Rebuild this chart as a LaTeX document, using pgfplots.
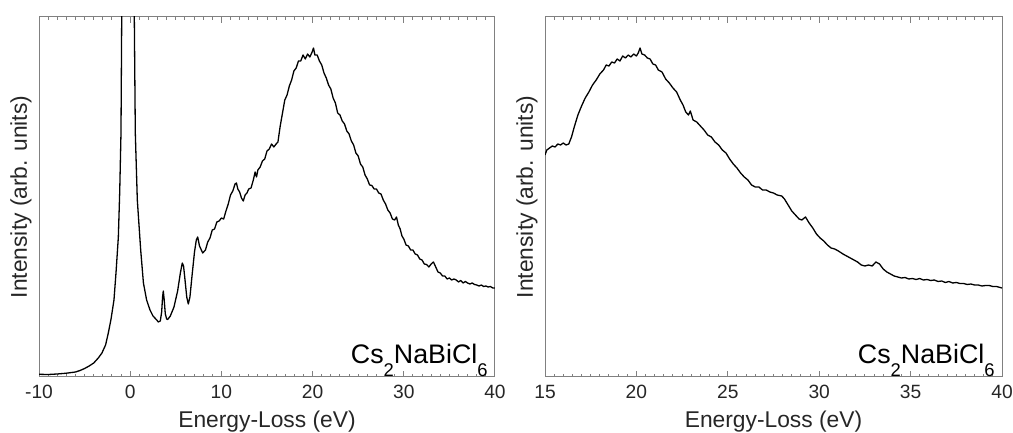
\documentclass[border=0pt]{standalone}
\usepackage{pgfplots}
\pgfplotsset{compat=1.18}
\usepackage{fontspec}
\setmainfont{Liberation Sans}
\pgfplotstableread{
x y
-10.0 2.7
-9.0 2.5
-8.0 3.0
-7.0 3.8
-6.0 5.0
-5.5 6.5
-5.0 8.5
-4.5 11
-4.0 14
-3.5 19
-3.1 24
-2.7 32
-2.4 44
-2.1 58
-1.78 77
-1.55 105
-1.30 140
-1.15 185
-1.01 244
-0.93 360
-0.85 450
-0.2 1500
0.38 450
0.45 360
0.56 244
0.78 177
1.15 127
1.45 94
1.8 77
2.17 67
2.5 61
2.91 57
3.08 55
3.3 56
3.45 65
3.55 80
3.63 86
3.72 78
3.85 63
4.0 58
4.11 57.5
4.4 61
4.8 70
5.2 86
5.5 104
5.71 114
5.85 111
6.0 98
6.2 80
6.37 73
6.55 80
6.8 103
7.05 125
7.25 137
7.40 140
7.6 131
7.95 124
8.25 127
8.5 135
8.75 139
9.0 147
9.25 148
9.5 155
9.75 156
10.0 159
10.25 158
10.5 166
10.75 173
11.0 182
11.25 186
11.5 193
11.65 194
11.8 188
12.0 185
12.2 179
12.4 176
12.6 182
12.8 184
13.0 188
13.25 189
13.5 197
13.7 205
13.85 200
14.0 207
14.25 210
14.5 216
14.75 218
15.0 226
15.25 228
15.5 233
15.75 230
16.0 233
16.2 235
16.45 251
16.7 264
16.95 277
17.2 282
17.45 291
17.7 297
17.95 306
18.2 309
18.45 316
18.7 316
18.95 322
19.2 318
19.45 323
19.7 320
19.95 325
20.1 329
20.25 322
20.5 322
20.75 316
21.0 312
21.25 304
21.5 299
21.75 292
22.0 288
22.25 279
22.5 274
22.75 264
23.0 262
23.25 256
23.5 253
23.75 246
24.0 243
24.25 236
24.5 232
24.75 224
25.0 221
25.25 213
25.5 210
25.75 202
26.0 198
26.25 192
26.5 191.5
26.75 188
27.0 188
27.25 184
27.5 183
27.75 177
28.0 173
28.25 167
28.5 164
28.75 158
29.0 157
29.2 160
29.4 152
29.6 148
29.8 141
30.0 138
30.25 132
30.5 131
30.75 127
31.0 127
31.25 123
31.5 122
31.75 118
32.0 117
32.25 113
32.5 112.5
32.75 110
33.0 113
33.25 115
33.5 110
33.75 105
34.0 104
34.25 101
34.5 101
34.75 98
35.0 99
35.25 97
35.5 98
35.75 97
36.0 95
36.25 96.5
36.5 94
36.75 95.5
37.0 94
37.25 93
37.5 94
37.75 92.5
38.0 92
38.25 91
38.5 92
38.75 90.5
39.0 91
39.25 90
39.5 90.5
39.75 89
40.0 89
}\leftdata
\pgfplotstableread{
x y
15.0 222
15.1 227
15.25 229
15.4 231
15.55 230
15.7 233
15.85 232
16.0 234
16.15 232
16.3 233
16.45 240
16.6 250
16.8 262
17.0 271
17.2 279
17.4 285
17.6 292
17.8 297
18.0 303
18.2 307
18.35 312
18.5 311
18.65 315
18.8 314
18.95 318
19.1 316
19.25 321
19.4 319
19.55 322
19.7 320
19.85 323
20.0 321
20.1 324
20.2 329
20.3 323
20.45 322
20.6 319
20.75 318
20.9 313
21.05 312
21.2 307
21.4 305
21.6 298
21.8 294
22.0 289
22.2 285
22.4 277
22.55 272
22.7 265
22.85 262
22.95 266
23.1 257
23.3 255
23.5 251
23.7 247
23.9 242
24.1 240
24.3 235
24.5 232
24.7 227
24.9 224
25.1 218
25.3 213
25.5 209
25.7 204
25.9 200
26.1 197
26.3 192
26.5 190
26.7 190
26.9 187
27.1 187
27.3 185
27.5 184
27.7 182
27.95 181
28.1 178
28.3 172
28.5 166
28.7 162
28.9 158
29.05 157
29.25 160
29.45 154
29.65 149
29.85 143
30.05 139
30.25 136
30.45 132
30.65 129
30.85 128
31.05 126
31.3 123
31.5 121
31.7 119
31.9 117
32.1 115
32.3 112
32.5 111
32.7 112
32.9 111
33.1 115
33.3 113
33.5 108
33.7 105
33.9 103
34.1 101
34.3 100
34.5 99
34.7 99.5
34.9 98
35.1 98.5
35.3 97.5
35.5 98.5
35.7 97
35.9 97.5
36.1 96.5
36.3 97
36.5 95.5
36.7 96
36.9 94.5
37.1 95.5
37.3 94
37.5 94.5
37.7 93.5
37.9 93.5
38.1 92.5
38.3 93
38.5 92
38.7 92
38.9 91
39.1 91.5
39.3 91.5
39.5 90.5
39.7 90.5
39.9 89.5
40.0 89
}\rightdata
\pgfplotsset{
  eels/.style={
    scale only axis, height=180pt,
    ymin=0, ymax=360, ytick=\empty,
    axis line style={black!50, line width=0.5pt},
    every tick/.style={black!50, line width=0.5pt},
    major tick length=3pt, minor tick length=1.6pt,
    tick align=inside, xtick pos=both, minor x tick num=9,
    xticklabel style={font=\fontsize{9.6}{11}\selectfont, text=black!85, inner sep=0pt, anchor=north, yshift=-4pt},
    xlabel={Energy-Loss (eV)},
    xlabel style={at={(rel axis cs:0.5,0)}, anchor=north, inner sep=0pt, yshift=-17pt, font=\fontsize{11.4}{13}\selectfont, text=black!85},
    ylabel={Intensity (arb. units)},
    ylabel style={at={(rel axis cs:0,0.5)}, anchor=south, inner sep=3.5pt, font=\fontsize{11.4}{13}\selectfont, text=black!85},
  },
}
\newcommand{\sub}[1]{\raisebox{-0.5em}{\fontsize{9.2}{10}\selectfont #1}}
\begin{document}
\begin{tikzpicture}
\useasboundingbox (0,0) rectangle (506.5pt,216.5pt);
\begin{axis}[eels, at={(19.5pt,28pt)}, anchor=south west, width=228pt,
  xmin=-10, xmax=40, xtick={-10,0,10,20,30,40}, xticklabels={-10,0,10,20,30,40}]
  \addplot[black, line width=0.65pt, line join=round] table[x=x,y=y] {\leftdata};
  \node[anchor=south east, inner sep=0pt, xshift=-3.5pt, font=\fontsize{13.4}{15}\selectfont, text=black] at (rel axis cs:1,0) {Cs\sub{2}NaBiCl\sub{6}};
\end{axis}
\begin{axis}[eels, at={(272.5pt,28pt)}, anchor=south west, width=228.5pt,
  xmin=15, xmax=40, xtick={15,20,25,30,35,40}, xticklabels={15,20,25,30,35,40}]
  \addplot[black, line width=0.65pt, line join=round] table[x=x,y=y] {\rightdata};
  \node[anchor=south east, inner sep=0pt, xshift=-3.5pt, font=\fontsize{13.4}{15}\selectfont, text=black] at (rel axis cs:1,0) {Cs\sub{2}NaBiCl\sub{6}};
\end{axis}
\end{tikzpicture}
\end{document}
